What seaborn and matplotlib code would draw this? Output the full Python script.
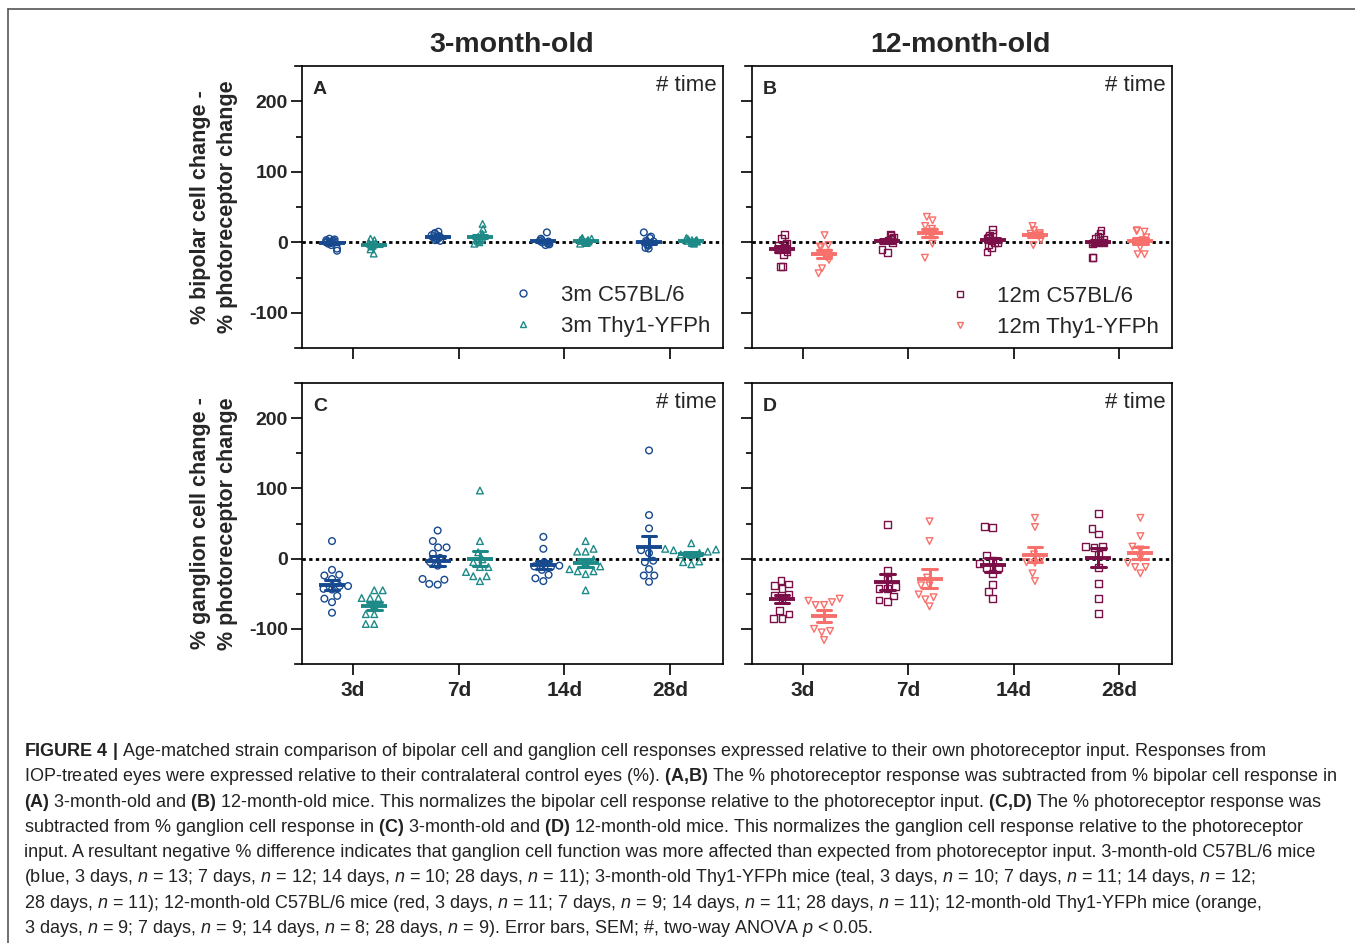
import numpy as np
import pandas as pd
import seaborn as sns
import matplotlib.pyplot as plt
from matplotlib.lines import Line2D
from matplotlib.ticker import FixedLocator

times = ["3d", "7d", "14d", "28d"]
strains_3m = ["3m C57BL/6", "3m Thy1-YFPh"]
strains_12m = ["12m C57BL/6", "12m Thy1-YFPh"]

# % bipolar cell change - % photoreceptor change (one list per time point)
bip_3m_c57 = [[2, 4, 5, 0, -9, -12, 1, -2, 3, -4, 0, -1, 2],
              [13, 8, 6, 10, 15, 12, 5, 3, 2, 4, 7, 9],
              [14, 5, 2, 0, -1, -3, -4, 1, -2, 3],
              [14, 8, 6, -3, -8, -5, -9, 2, 0, -4, 1]]
bip_3m_thy = [[-2, -4, -6, -16, -10, 5, 3, -1, -3, -5],
              [26, 19, 12, 10, 8, 6, 5, 3, 2, 0, -2],
              [6, 5, 4, 3, 2, 1, 0, -1, -2, 3, 5, 2],
              [5, 6, 3, 2, 1, 0, -1, -2, 4, 3, 2]]
bip_12m_c57 = [[11, 5, -1, -3, -7, -14, -18, -34, -34, -11, -4],
               [11, 10, 7, 5, 3, -10, -15, 0, 4],
               [18, 12, 10, 7, 5, 0, -1, -4, -7, -14, 3],
               [17, 12, 8, 5, 3, 0, -1, -2, -22, -22, 4]]
bip_12m_thy = [[10, -4, -6, -7, -21, -25, -37, -44, -15],
               [36, 31, 23, 19, 15, 12, 10, -2, -22],
               [23, 17, 13, 12, 11, 9, 3, -4],
               [16, 17, 15, 7, 3, -7, -17, -17, 0]]

# % ganglion cell change - % photoreceptor change
gan_3m_c57 = [[25, -16, -29, -24, -23, -39, -39, -43, -44, -53, -57, -62, -77],
              [40, 25, 16, 16, 7, 1, -5, -10, -29, -30, -37, -36],
              [31, 14, -5, -11, -12, -16, -23, -28, -32, -10],
              [154, 62, 43, 12, 8, -3, -5, -15, -24, -24, -33]]
gan_3m_thy = [[-45, -45, -56, -56, -56, -79, -79, -93, -93, -66],
              [97, 25, 9, -1, -12, -12, -19, -25, -25, -32, -5],
              [25, 14, 10, 10, -1, -5, -15, -18, -18, -22, -45, -11],
              [22, 14, 13, 12, 10, 8, 6, 5, -4, -5, -8]]
gan_12m_c57 = [[-31, -36, -38, -43, -51, -52, -74, -79, -85, -85, -58],
               [49, -16, -29, -40, -43, -43, -53, -59, -61],
               [46, 44, 5, -3, -13, -13, -21, -37, -47, -57, -7],
               [64, 43, 35, 17, 17, 16, 6, -13, -35, -57, -78]]
gan_12m_thy = [[-57, -60, -62, -66, -66, -100, -103, -105, -116],
               [53, 25, -27, -38, -38, -51, -55, -58, -68],
               [58, 45, 6, -5, -6, -21, -32, 1],
               [58, 32, 17, 13, 1, -6, -12, -12, -21]]

col_3m = ["#17498f", "#1d8a87"]
col_12m = ["#7a1047", "#f8706b"]

W, H = 1355, 943
np.random.seed(3)
sns.set_style("ticks")
plt.rcParams["font.family"] = ["Liberation Sans", "DejaVu Sans"]
plt.rcParams["axes.unicode_minus"] = False
plt.rcParams["mathtext.fontset"] = "custom"
plt.rcParams["mathtext.rm"] = "Liberation Sans"
plt.rcParams["mathtext.bf"] = "Liberation Sans:bold"
plt.rcParams["mathtext.it"] = "Liberation Sans:italic"


def long_frame(lists, strain):
    rows = []
    for t, vals in zip(times, lists):
        for v in vals:
            rows.append((t, strain, v))
    return pd.DataFrame(rows, columns=["time", "strain", "value"])


def px_axes(fig, x0, x1, ytop, ybot):
    return fig.add_axes([x0 / W, 1 - ybot / H, (x1 - x0) / W, (ybot - ytop) / H])


def draw_panel(ax, lists_a, lists_b, names, colors, markers, letter, xlabels, ylabel,
               swarm=True):
    df = pd.concat([long_frame(lists_a, names[0]), long_frame(lists_b, names[1])])
    pal = dict(zip(names, colors))
    for name, mk in zip(names, markers):
        kw = dict(data=df[df.strain == name], x="time", y="value", hue="strain",
                  order=times, hue_order=names, palette=pal, dodge=True,
                  marker=mk, size=4.8, linewidth=1.0, legend=False, ax=ax)
        if swarm:
            sns.swarmplot(warn_thresh=1, **kw)
        else:
            # data hugging zero: overlap like the original instead of a wide swarm
            sns.stripplot(jitter=0.12, **kw)
    for coll in ax.collections:
        coll.set_edgecolors(coll.get_facecolors())
        coll.set_facecolors("none")
    sns.pointplot(data=df, x="time", y="value", hue="strain", order=times,
                  hue_order=names, palette=pal, dodge=0.4, errorbar="se",
                  capsize=0.14, markers="_", markersize=19, markeredgewidth=2.8,
                  linestyle="none", err_kws={"linewidth": 2.2}, legend=False, ax=ax)
    ax.axhline(0, xmin=0.016, xmax=1, color="black", lw=2.0,
               linestyle=(0, (1.2, 1.2)), zorder=1.5)

    ax.set_xlim(-0.55, 3.5)
    ax.set_ylim(-150, 250)
    ax.spines["left"].set_position(("data", -0.487))
    for sp in ax.spines.values():
        sp.set_visible(True)
        sp.set_linewidth(1.2)
        sp.set_color("black")
    ax.set_yticks([-100, 0, 100, 200])
    ax.yaxis.set_minor_locator(FixedLocator([-50, 50, 150]))
    ax.tick_params(axis="both", which="major", length=8, width=1.2, direction="out",
                   color="black", labelsize=14, pad=2)
    ax.tick_params(axis="y", which="minor", length=4.5, width=1.2, color="black")
    ax.tick_params(axis="x", labelsize=15, pad=4)
    ax.set_xlabel("")
    if xlabels:
        ax.set_xticks(range(len(times)))
        ax.set_xticklabels(times)
    else:
        ax.tick_params(axis="x", labelbottom=False)
    for lab in ax.get_xticklabels() + ax.get_yticklabels():
        lab.set_fontweight("bold")
    if ylabel:
        ax.set_ylabel(ylabel, fontsize=15.5, fontweight="bold", va="center",
                      linespacing=1.35)
        ax.yaxis.set_label_coords(-0.189, 0.5)
    else:
        ax.set_ylabel("")
        ax.tick_params(axis="y", labelleft=False)
    ax.text(0.042, 0.9, letter, transform=ax.transAxes, fontsize=14,
            fontweight="bold", ha="left", va="baseline")
    ax.text(0.984, 0.911, "# time", transform=ax.transAxes, fontsize=16,
            ha="right", va="baseline")


fig = plt.figure(figsize=(W / 100, H / 100), dpi=100)
axA = px_axes(fig, 295, 723, 66, 348)
axB = px_axes(fig, 745, 1172, 66, 348)
axC = px_axes(fig, 295, 723, 383, 664)
axD = px_axes(fig, 745, 1172, 383, 664)

draw_panel(axA, bip_3m_c57, bip_3m_thy, strains_3m, col_3m, ["o", "^"], "A", False,
           "% bipolar cell change -\n% photoreceptor change", swarm=False)
draw_panel(axB, bip_12m_c57, bip_12m_thy, strains_12m, col_12m, ["s", "v"], "B", False,
           None, swarm=False)
draw_panel(axC, gan_3m_c57, gan_3m_thy, strains_3m, col_3m, ["o", "^"], "C", True,
           "% ganglion cell change -\n% photoreceptor change")
draw_panel(axD, gan_12m_c57, gan_12m_thy, strains_12m, col_12m, ["s", "v"], "D", True, None)

for ax, names, colors, markers, anchor in [
        (axA, strains_3m, col_3m, ["o", "^"], (0.97, 0.04)),
        (axB, strains_12m, col_12m, ["s", "v"], (0.97, 0.035))]:
    handles = [Line2D([], [], ls="none", marker=m, mfc="none", mec=c, ms=5, mew=1)
               for m, c in zip(markers, colors)]
    ax.legend(handles, names, loc="lower right", bbox_to_anchor=anchor, frameon=False,
              fontsize=16, handlelength=1.0, handletextpad=1.2, labelspacing=0.45,
              borderaxespad=0, borderpad=0)

fig.text(512 / W, 1 - 52 / H, "3-month-old", ha="center", va="baseline",
         fontsize=20.5, fontweight="bold")
fig.text(960 / W, 1 - 52 / H, "12-month-old", ha="center", va="baseline",
         fontsize=20.5, fontweight="bold")

# outer frame (left and top edges)
fig.add_artist(Line2D([8 / W, 8 / W], [0, 1 - 9 / H], transform=fig.transFigure,
                      color="#555555", lw=1.2))
fig.add_artist(Line2D([8 / W, 1], [1 - 9 / H, 1 - 9 / H], transform=fig.transFigure,
                      color="#555555", lw=1.2))


def bf(s):
    return r"$\mathbf{" + s.replace(" ", r"\ ").replace(",", "{,}") + "}$"


n = "$n$"
caption = [
    bf("FIGURE 4 |") + " Age-matched strain comparison of bipolar cell and ganglion cell responses expressed relative to their own photoreceptor input. Responses from",
    "IOP-treated eyes were expressed relative to their contralateral control eyes (%). " + bf("(A,B)") + " The % photoreceptor response was subtracted from % bipolar cell response in",
    bf("(A)") + " 3-month-old and " + bf("(B)") + " 12-month-old mice. This normalizes the bipolar cell response relative to the photoreceptor input. " + bf("(C,D)") + " The % photoreceptor response was",
    "subtracted from % ganglion cell response in " + bf("(C)") + " 3-month-old and " + bf("(D)") + " 12-month-old mice. This normalizes the ganglion cell response relative to the photoreceptor",
    "input. A resultant negative % difference indicates that ganglion cell function was more affected than expected from photoreceptor input. 3-month-old C57BL/6 mice",
    f"(blue, 3 days, {n} = 13; 7 days, {n} = 12; 14 days, {n} = 10; 28 days, {n} = 11); 3-month-old Thy1-YFPh mice (teal, 3 days, {n} = 10; 7 days, {n} = 11; 14 days, {n} = 12;",
    f"28 days, {n} = 11); 12-month-old C57BL/6 mice (red, 3 days, {n} = 11; 7 days, {n} = 9; 14 days, {n} = 11; 28 days, {n} = 11); 12-month-old Thy1-YFPh mice (orange,",
    f"3 days, {n} = 9; 7 days, {n} = 9; 14 days, {n} = 8; 28 days, {n} = 9). Error bars, SEM; #, two-way ANOVA $p$ < 0.05.",
]

renderer = fig.canvas.get_renderer()
probe = fig.text(0, 0, caption[1], fontsize=12)
w = probe.get_window_extent(renderer).width
probe.remove()
cap_size = 12 * (1339 - 24) / w

for i, line in enumerate(caption):
    fig.text(24 / W, 1 - (756 + 25.3 * i) / H, line, fontsize=cap_size,
             color="#222222", ha="left", va="baseline")

fig.savefig("out.png", dpi=100)
